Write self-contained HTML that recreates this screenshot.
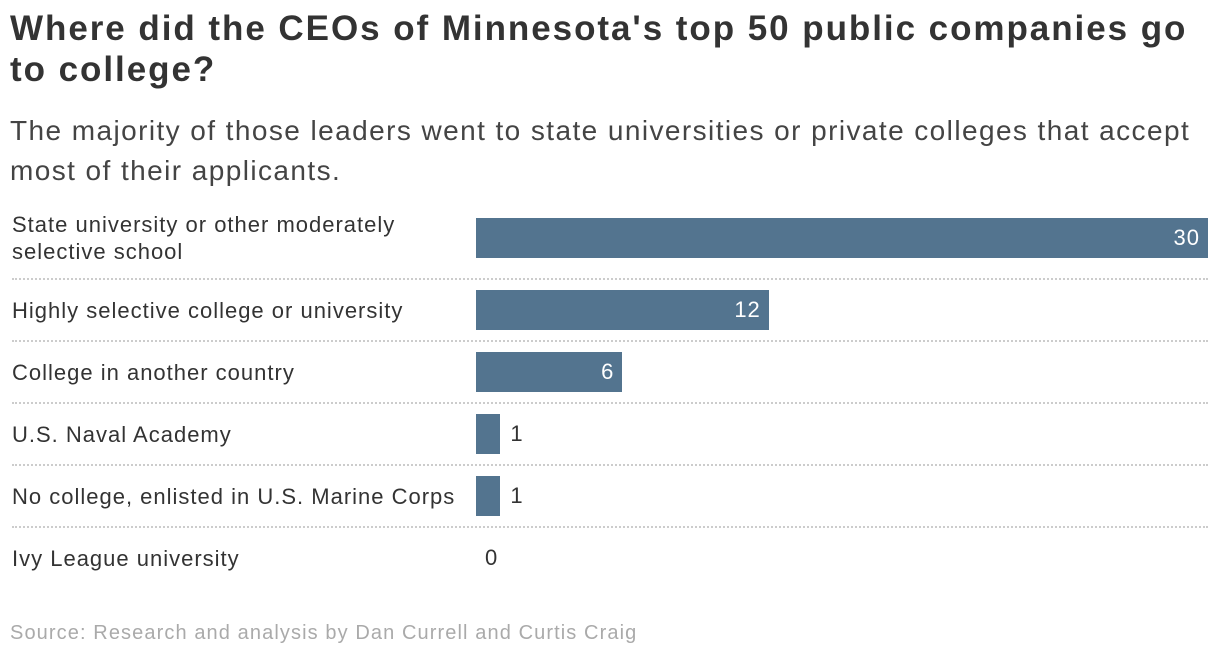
<!DOCTYPE html>
<html><head><meta charset="utf-8"><style>
body{margin:0;width:1220px;height:660px;background:#fff;font-family:"Liberation Sans",sans-serif;position:relative;overflow:hidden;color:#333}
#title{position:absolute;left:10px;top:8px;width:1205px;font-size:35px;letter-spacing:1.95px;font-weight:bold;line-height:41px;color:#333;margin:0}
#sub{position:absolute;left:10px;top:111px;width:1205px;font-size:28px;letter-spacing:1.42px;line-height:40px;color:#444;margin:0}
.lbl{position:absolute;left:12px;font-size:22px;letter-spacing:1px;line-height:27px;color:#333;width:420px}
.bar{position:absolute;background:#53748f}
.val{position:absolute;font-size:22px;letter-spacing:1px;line-height:40px}
.sep{position:absolute;left:12px;width:1196px;border-top:2px dotted #ccc;height:0}
#src{position:absolute;left:10px;top:622px;font-size:20px;letter-spacing:1.1px;color:#aaa}
</style></head><body>
<h1 id="title">Where did the CEOs of Minnesota's top 50 public companies go to college?</h1>
<p id="sub">The majority of those leaders went to state universities or private colleges that accept most of their applicants.</p>
<div id="chart"></div>
<div id="src">Source: Research and analysis by Dan Currell and Curtis Craig</div>
<script>
const categories=["State university or other moderately selective school","Highly selective college or university","College in another country","U.S. Naval Academy","No college, enlisted in U.S. Marine Corps","Ivy League university"];
const values=[30,12,6,1,1,0];
const x0=476,unit=24.4,top0=218,pitch=62,bh=40;
const xs=v=>v*unit;
const chart=document.getElementById('chart');
categories.forEach((c,i)=>{
  const y=top0+i*pitch+(i>0?10:0);
  const l=document.createElement('div');l.className='lbl';
  
  
  l.textContent=c;
  const lines=c.length>45?2:1;
  if(lines==1)l.style.whiteSpace='nowrap';
  l.style.top=(y+bh/2-lines*27/2)+'px';
  chart.appendChild(l);
  const w=xs(values[i]);
  if(values[i]>0){const b=document.createElement('div');b.className='bar';
  
  
  b.style.left=x0+'px';b.style.top=y+'px';b.style.width=w+'px';b.style.height=bh+'px';chart.appendChild(b);}
  const v=document.createElement('div');v.className='val';
  
  
  v.textContent=values[i];v.style.top=y+'px';
  if(w>60){v.style.left=(x0+w-8)+'px';v.style.transform='translateX(-100%)';v.style.color='#fff';}
  else{v.style.left=(x0+w+(values[i]>0?10:9))+'px';v.style.color='#333';}
  chart.appendChild(v);
  if(i<categories.length-1){const s=document.createElement('div');s.className='sep';
  
  
  s.style.top=(y+bh+(i==0?20:10))+'px';chart.appendChild(s);}
});
</script>
</body></html>
